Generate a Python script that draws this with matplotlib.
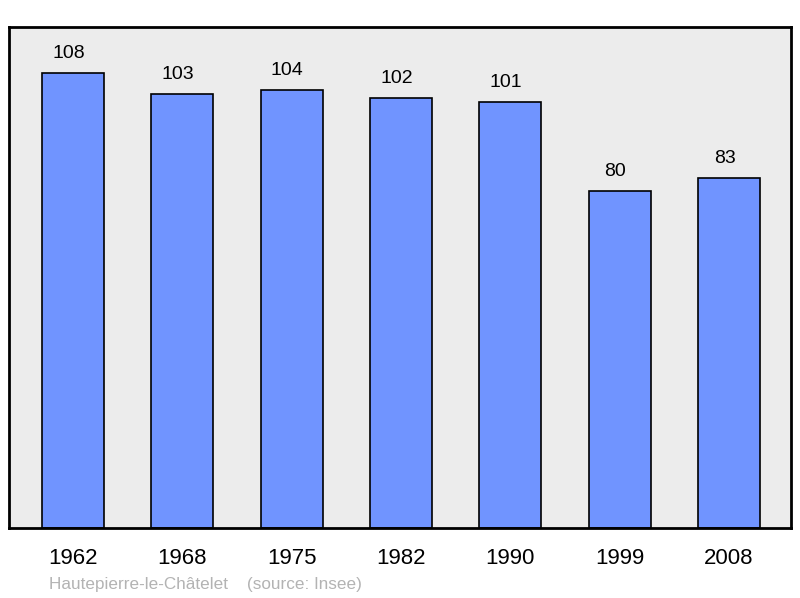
import matplotlib.pyplot as plt

years = ['1962', '1968', '1975', '1982', '1990', '1999', '2008']
population = [108, 103, 104, 102, 101, 80, 83]

plt.rcParams['font.family'] = ['Liberation Sans', 'DejaVu Sans']

fig = plt.figure(figsize=(8, 5.98), dpi=100)
ax = fig.add_axes([9 / 800, 1 - 528 / 598, 782 / 800, 501 / 598])
ax.set_facecolor('#ececec')

x = range(len(years))
ax.bar(x, population, width=0.567, color='#7094ff', edgecolor='black', linewidth=1.2, zorder=2)
for i, v in zip(x, population):
    ax.text(i - 0.04, v + 2.6, str(v), ha='center', va='bottom', fontsize=14)

ax.set_xlim(-0.585, 6.567)
ax.set_ylim(0, 118.9)
ax.set_yticks([])
ax.set_xticks(list(x))
ax.set_xticklabels(years, fontsize=16)
ax.tick_params(axis='x', length=0, pad=14.5)
for s in ax.spines.values():
    s.set_linewidth(2)

fig.text(49 / 800, 1 - 584 / 598, 'Hautepierre-le-Châtelet    (source: Insee)',
         color='#b3b3b3', fontsize=12.3, va='center', ha='left')

fig.savefig('out.png', dpi=100)
